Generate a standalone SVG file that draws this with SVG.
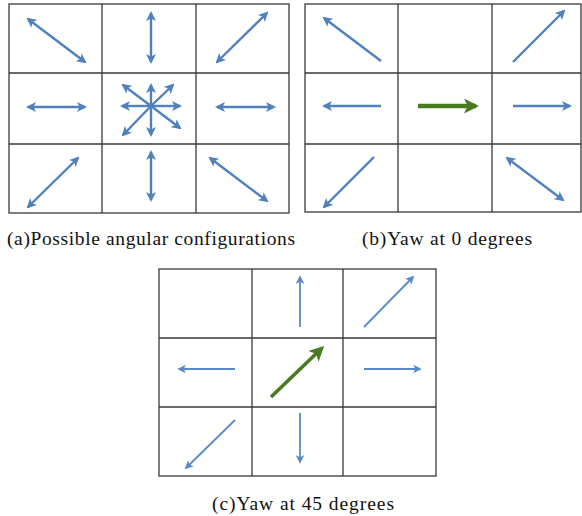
<svg xmlns="http://www.w3.org/2000/svg" width="582" height="516" viewBox="0 0 582 516">
<defs>
<marker id="hb" viewBox="0 0 10 10" refX="8" refY="5" markerUnits="userSpaceOnUse" markerWidth="10" markerHeight="10" orient="auto-start-reverse">
<path d="M0,0 L10,5 L0,10 L2.5,5 Z" fill="#4F81BD"/>
</marker>
<marker id="hbs" viewBox="0 0 10 10" refX="8" refY="5" markerUnits="userSpaceOnUse" markerWidth="8.5" markerHeight="8.5" orient="auto-start-reverse">
<path d="M0,0 L10,5 L0,10 L2.5,5 Z" fill="#5A8AC6"/>
</marker>
<marker id="hg" viewBox="0 0 10 10" refX="8" refY="5" markerUnits="userSpaceOnUse" markerWidth="15" markerHeight="15" orient="auto">
<path d="M0,0 L10,5 L0,10 L2.5,5 Z" fill="#4A7A22"/>
</marker>
</defs>
<style>
.grid{fill:none;stroke:#3a3a3a;stroke-width:1.3}
.ba{fill:none;stroke:#4F81BD;stroke-width:2.4;marker-end:url(#hb)}
.bd{fill:none;stroke:#4F81BD;stroke-width:2.4;marker-start:url(#hb);marker-end:url(#hb)}
.bs{fill:none;stroke:#5A8AC6;stroke-width:1.8;marker-end:url(#hbs)}
.ga{fill:none;stroke:#4A7A22;stroke-width:4.5;marker-end:url(#hg)}
.gs{fill:none;stroke:#4A7A22;stroke-width:3.6;marker-end:url(#hg)}
.cap{font-family:'Liberation Serif','Times New Roman',serif;font-size:19.5px;fill:#111}
</style>

<g id="panel-a">
<rect class="grid" x="9" y="4" width="280" height="209"/>
<path class="grid" d="M102,4 V213 M196,4 V213 M9,73 H289 M9,144 H289"/>
<g id="a-arrows">
<line class="bd" x1="28" y1="19" x2="85" y2="62"/>
<line class="bd" x1="151" y1="13" x2="151" y2="62"/>
<line class="bd" x1="217" y1="62" x2="267" y2="13"/>
<line class="bd" x1="28" y1="107" x2="85" y2="107"/>
<line class="bd" x1="217" y1="107" x2="274" y2="107"/>
<line class="bd" x1="28" y1="207" x2="78" y2="158"/>
<line class="bd" x1="151" y1="152" x2="151" y2="200"/>
<line class="bd" x1="210" y1="158" x2="267" y2="201"/>
<g id="a-star">
<line class="ba" x1="151" y1="106" x2="151" y2="85"/>
<line class="ba" x1="151" y1="106" x2="151" y2="135"/>
<line class="ba" x1="151" y1="106" x2="122" y2="106"/>
<line class="ba" x1="151" y1="106" x2="180" y2="106"/>
<line class="ba" x1="151" y1="106" x2="123" y2="85"/>
<line class="ba" x1="151" y1="106" x2="173" y2="85"/>
<line class="ba" x1="151" y1="106" x2="123" y2="135"/>
<line class="ba" x1="151" y1="106" x2="180" y2="128"/>
</g>
</g>
<text class="cap" x="7" y="245" textLength="288" lengthAdjust="spacing">(a)Possible angular configurations</text>
</g>

<g id="panel-b">
<rect class="grid" x="305" y="4" width="276" height="208"/>
<path class="grid" d="M398,4 V212 M492,4 V212 M305,73 H581 M305,144 H581"/>
<g id="b-arrows">
<line class="ba" x1="381" y1="61" x2="324" y2="18"/>
<line class="ba" x1="513" y1="62" x2="564" y2="11"/>
<line class="ba" x1="381" y1="106" x2="324" y2="106"/>
<line class="ga" x1="418" y1="106" x2="476" y2="106"/>
<line class="ba" x1="513" y1="106" x2="570" y2="106"/>
<line class="ba" x1="374" y1="157" x2="324" y2="207"/>
<line class="bd" x1="507" y1="158" x2="563" y2="200"/>
</g>
<text class="cap" x="362" y="245" textLength="170" lengthAdjust="spacing">(b)Yaw at 0 degrees</text>
</g>

<g id="panel-c">
<rect class="grid" x="159" y="269" width="277" height="207"/>
<path class="grid" d="M252,269 V476 M343,269 V476 M159,338 H436 M159,407 H436"/>
<g id="c-arrows">
<line class="bs" x1="300" y1="327" x2="300" y2="277"/>
<line class="bs" x1="364" y1="327" x2="413" y2="277"/>
<line class="bs" x1="235" y1="369" x2="179" y2="369"/>
<line class="gs" x1="271" y1="397" x2="322" y2="348"/>
<line class="bs" x1="364" y1="369" x2="420" y2="369"/>
<line class="bs" x1="235" y1="420" x2="186" y2="468"/>
<line class="bs" x1="300" y1="413" x2="300" y2="462"/>
</g>
<text class="cap" x="212" y="510" textLength="182" lengthAdjust="spacing">(c)Yaw at 45 degrees</text>
</g>
</svg>
